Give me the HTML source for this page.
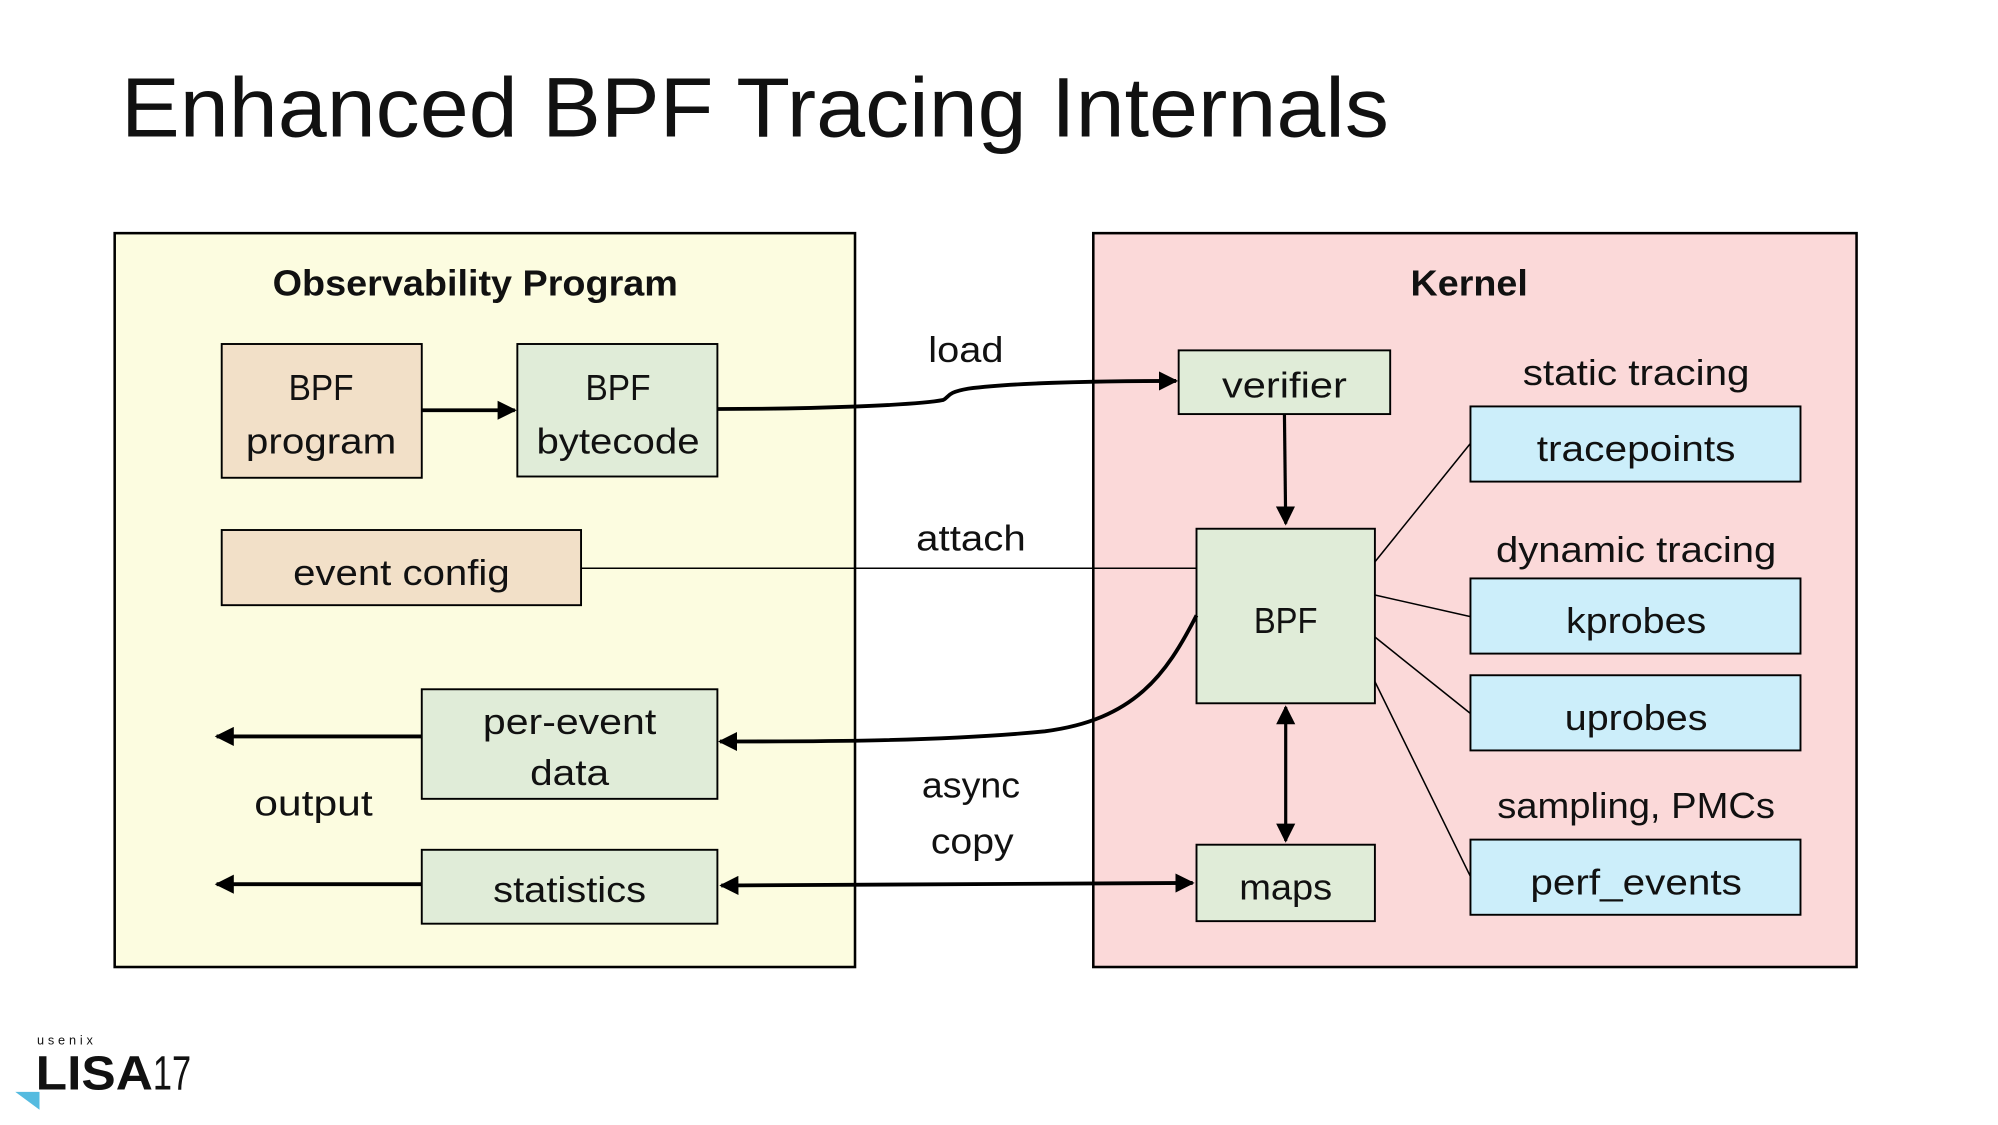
<!DOCTYPE html>
<html><head><meta charset="utf-8"><style>
html,body{margin:0;padding:0;background:#fff;}
svg{display:block;}
text{font-family:"Liberation Sans",sans-serif;fill:#111;}
</style></head><body>
<svg width="1998" height="1125" viewBox="0 0 1568 883" preserveAspectRatio="none" xmlns="http://www.w3.org/2000/svg">
<defs>
<marker id="ah" viewBox="0 0 10 10" refX="9" refY="5" markerWidth="5" markerHeight="5" orient="auto-start-reverse" markerUnits="strokeWidth"><path d="M0,0 L10,5 L0,10 z" fill="#000"/></marker>
<marker id="ah2" viewBox="0 0 10 10" refX="9" refY="5" markerWidth="6" markerHeight="6" orient="auto-start-reverse" markerUnits="strokeWidth"><path d="M0,0 L10,5 L0,10 z" fill="#000"/></marker>
</defs>
<text x="95" y="107" font-size="66" textLength="995" lengthAdjust="spacingAndGlyphs">Enhanced BPF Tracing Internals</text>

<rect x="90" y="183" width="581" height="576" fill="#FCFCE0" stroke="#000" stroke-width="2"/>
<rect x="858" y="183" width="599" height="576" fill="#FBD9D9" stroke="#000" stroke-width="2"/>

<g font-size="28" text-anchor="middle">
<text x="373" y="232" font-weight="bold" textLength="318" lengthAdjust="spacingAndGlyphs">Observability Program</text>
<text x="1153" y="232" font-weight="bold" textLength="92" lengthAdjust="spacingAndGlyphs">Kernel</text>

<rect x="174" y="270" width="157" height="105" fill="#F2E0C8" stroke="#000" stroke-width="1.5"/>
<text x="252" y="314" textLength="51" lengthAdjust="spacingAndGlyphs">BPF</text><text x="252" y="356" textLength="118" lengthAdjust="spacingAndGlyphs">program</text>
<rect x="406" y="270" width="157" height="104" fill="#E0ECD8" stroke="#000" stroke-width="1.5"/>
<text x="485" y="314" textLength="51" lengthAdjust="spacingAndGlyphs">BPF</text><text x="485" y="356" textLength="128" lengthAdjust="spacingAndGlyphs">bytecode</text>
<rect x="174" y="416" width="282" height="59" fill="#F2E0C8" stroke="#000" stroke-width="1.5"/>
<text x="315" y="459" textLength="170" lengthAdjust="spacingAndGlyphs">event config</text>
<rect x="331" y="541" width="232" height="86" fill="#E0ECD8" stroke="#000" stroke-width="1.5"/>
<text x="447" y="576" textLength="136" lengthAdjust="spacingAndGlyphs">per-event</text><text x="447" y="616" textLength="62" lengthAdjust="spacingAndGlyphs">data</text>
<rect x="331" y="667" width="232" height="58" fill="#E0ECD8" stroke="#000" stroke-width="1.5"/>
<text x="447" y="708" textLength="120" lengthAdjust="spacingAndGlyphs">statistics</text>
<text x="246" y="640" textLength="93" lengthAdjust="spacingAndGlyphs">output</text>

<text x="758" y="284" textLength="59" lengthAdjust="spacingAndGlyphs">load</text>
<text x="762" y="432" textLength="86" lengthAdjust="spacingAndGlyphs">attach</text>
<text x="762" y="626" textLength="77" lengthAdjust="spacingAndGlyphs">async</text>
<text x="763" y="670" textLength="65" lengthAdjust="spacingAndGlyphs">copy</text>

<rect x="925" y="275" width="166" height="50" fill="#E0ECD8" stroke="#000" stroke-width="1.5"/>
<text x="1008" y="312" textLength="98" lengthAdjust="spacingAndGlyphs">verifier</text>
<rect x="939" y="415" width="140" height="137" fill="#E0ECD8" stroke="#000" stroke-width="1.5"/>
<text x="1009" y="497" textLength="50" lengthAdjust="spacingAndGlyphs">BPF</text>
<rect x="939" y="663" width="140" height="60" fill="#E0ECD8" stroke="#000" stroke-width="1.5"/>
<text x="1009" y="706" textLength="73" lengthAdjust="spacingAndGlyphs">maps</text>

<text x="1284" y="302" textLength="178" lengthAdjust="spacingAndGlyphs">static tracing</text>
<rect x="1154" y="319" width="259" height="59" fill="#CCEEFA" stroke="#000" stroke-width="1.5"/>
<text x="1284" y="362" textLength="156" lengthAdjust="spacingAndGlyphs">tracepoints</text>
<text x="1284" y="441" textLength="220" lengthAdjust="spacingAndGlyphs">dynamic tracing</text>
<rect x="1154" y="454" width="259" height="59" fill="#CCEEFA" stroke="#000" stroke-width="1.5"/>
<text x="1284" y="497" textLength="110" lengthAdjust="spacingAndGlyphs">kprobes</text>
<rect x="1154" y="530" width="259" height="59" fill="#CCEEFA" stroke="#000" stroke-width="1.5"/>
<text x="1284" y="573" textLength="112" lengthAdjust="spacingAndGlyphs">uprobes</text>
<text x="1284" y="642" textLength="218" lengthAdjust="spacingAndGlyphs">sampling, PMCs</text>
<rect x="1154" y="659" width="259" height="59" fill="#CCEEFA" stroke="#000" stroke-width="1.5"/>
<text x="1284" y="702" textLength="166" lengthAdjust="spacingAndGlyphs">perf_events</text>
</g>

<g stroke="#000" fill="none">
<line x1="331" y1="322" x2="404" y2="322" stroke-width="3" marker-end="url(#ah)"/>
<path d="M563,321 C640,321 720,318 740,314 C745,312 742,308 760,305 C800,300 870,299 923,299" stroke-width="3" marker-end="url(#ah)"/>
<line x1="1008" y1="325" x2="1009" y2="411" stroke-width="2.5" marker-end="url(#ah2)"/>
<line x1="456" y1="446" x2="939" y2="446" stroke-width="1.2"/>
<path d="M939,483 C915,530 890,565 820,574 C740,582 640,582 565,582" stroke-width="3" marker-end="url(#ah)"/>
<line x1="331" y1="578" x2="170" y2="578" stroke-width="3" marker-end="url(#ah)"/>
<line x1="331" y1="694" x2="170" y2="694" stroke-width="3" marker-end="url(#ah)"/>
<line x1="1009" y1="555" x2="1009" y2="660" stroke-width="2.5" marker-start="url(#ah2)" marker-end="url(#ah2)"/>
<line x1="566" y1="695" x2="936" y2="693" stroke-width="3" marker-start="url(#ah)" marker-end="url(#ah)"/>
<line x1="1079" y1="441" x2="1154" y2="348" stroke-width="1.2"/>
<line x1="1079" y1="467" x2="1154" y2="484" stroke-width="1.2"/>
<line x1="1079" y1="500" x2="1154" y2="560" stroke-width="1.2"/>
<line x1="1079" y1="535" x2="1154" y2="688" stroke-width="1.2"/>
</g>

<text x="29" y="820" font-size="10" letter-spacing="3" fill="#222">usenix</text>
<text x="28" y="855" font-size="38" font-weight="bold" fill="#222" textLength="92" lengthAdjust="spacingAndGlyphs">LISA</text>
<text x="120" y="855" font-size="38" fill="#222" textLength="30" lengthAdjust="spacingAndGlyphs">17</text>
<path d="M12,857 L31,857 L31,871 z" fill="#55BBE0"/>
</svg>
</body></html>
